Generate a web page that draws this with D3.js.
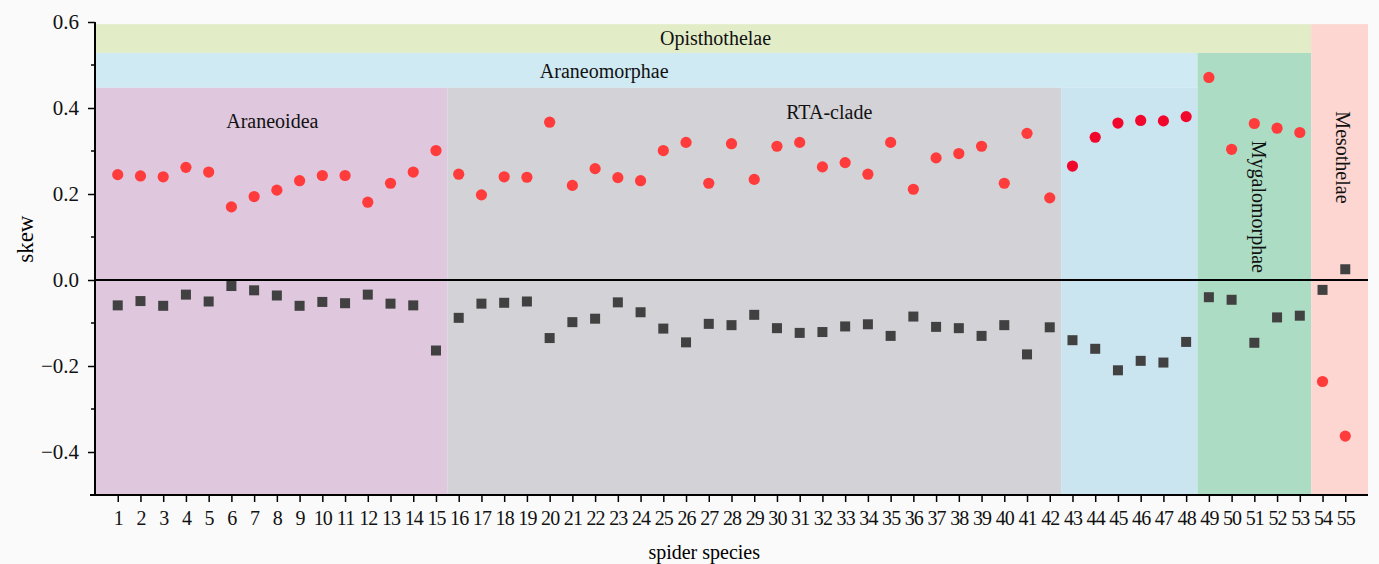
<!DOCTYPE html>
<html>
<head>
<meta charset="utf-8">
<script src="https://cdn.jsdelivr.net/npm/d3@7"></script>
<style>
  body { margin: 0; background: #fafafa; }
  text { font-family: "Liberation Serif", "Times New Roman", serif; }
</style>
</head>
<body>
<div id="chart"></div>
<script>
// species numbers 1..55
const species = d3.range(1, 56);

// skew of the red (circle) series
const skewUpper = [
  0.245, 0.242, 0.240, 0.262, 0.251, 0.170, 0.194, 0.209, 0.231, 0.243,
  0.243, 0.181, 0.225, 0.251, 0.301, 0.246, 0.198, 0.240, 0.239, 0.367,
  0.220, 0.259, 0.238, 0.231, 0.301, 0.320, 0.225, 0.317, 0.234, 0.311,
  0.320, 0.263, 0.273, 0.246, 0.320, 0.211, 0.284, 0.294, 0.311, 0.225,
  0.341, 0.191, 0.265, 0.332, 0.365, 0.371, 0.370, 0.380, 0.471, 0.304,
  0.364, 0.353, 0.343, -0.236, -0.363
];

// skew of the dark (square) series
const skewLower = [
  -0.059, -0.049, -0.060, -0.034, -0.050, -0.014, -0.024, -0.036, -0.060, -0.051,
  -0.054, -0.034, -0.055, -0.059, -0.164, -0.088, -0.055, -0.053, -0.050, -0.135,
  -0.098, -0.090, -0.052, -0.075, -0.113, -0.145, -0.102, -0.105, -0.081, -0.112,
  -0.123, -0.121, -0.108, -0.103, -0.130, -0.085, -0.109, -0.112, -0.130, -0.105,
  -0.173, -0.110, -0.140, -0.160, -0.210, -0.188, -0.192, -0.144, -0.040, -0.046,
  -0.146, -0.087, -0.083, -0.023, 0.025
];

// clade bands: left/right edge on the species axis, top/bottom skew
const cladeNames = ["Opisthothelae", "Araneomorphae", "Araneoidea", "RTA-clade", "", "Mygalomorphae", "Mesothelae"];
const cladeFrom  = [0, 0, 0, 15.5, 42.5, 48.5, 53.5];
const cladeTo    = [53.5, 48.5, 15.5, 42.5, 48.5, 53.5, 56];
const cladeTop   = [0.595, 0.528, 0.447, 0.447, 0.447, 0.528, 0.595];
const cladeBot   = [0.528, 0.447, -0.5, -0.5, -0.5, -0.5, -0.5];

const yTicks = [-0.4, -0.2, 0.0, 0.2, 0.4, 0.6];
const yMinor = [-0.3, -0.1, 0.1, 0.3, 0.5];

const width = 1379, height = 564;
const margin = {left: 95, right: 11, top: 22, bottom: 69};

const bandFill = ["#e2edc8", "#d0eaf4", "#dfc7de", "#d3d2d7", "#cbe5f0", "#acdcc3", "#fdd6d1"];

const svg = d3.select("#chart").append("svg")
    .attr("width", width)
    .attr("height", height);

const x = d3.scaleLinear().domain([0, 56]).range([margin.left, width - margin.right]);
const y = d3.scaleLinear().domain([-0.5, 0.6]).range([height - margin.bottom, margin.top]);

//background bands for the clades
const bands = cladeNames.map((name, i) => ({
    name: name, from: cladeFrom[i], to: cladeTo[i], top: cladeTop[i], bot: cladeBot[i], fill: bandFill[i]
}));

svg.append("g").selectAll("rect")
    .data(bands)
    .join("rect")
    .attr("x", d => x(d.from))
    .attr("width", d => x(d.to) - x(d.from))
    .attr("y", d => y(d.top))
    .attr("height", d => y(d.bot) - y(d.top))
    .attr("fill", d => d.fill);

//clade labels
const lab = svg.append("g").attr("font-size", 20).attr("fill", "#111");
lab.append("text").attr("x", x(27.3)).attr("y", y(0.562) + 7).attr("text-anchor", "middle").text(cladeNames[0]);
lab.append("text").attr("x", x(22.4)).attr("y", y(0.487) + 7).attr("text-anchor", "middle").text(cladeNames[1]);
lab.append("text").attr("x", x(7.8)).attr("y", y(0.37) + 7).attr("text-anchor", "middle").text(cladeNames[2]);
lab.append("text").attr("x", x(32.3)).attr("y", y(0.39) + 7).attr("text-anchor", "middle").text(cladeNames[3]);
lab.append("text")
    .attr("transform", `translate(${x(51.2) - 7},${y(0.17)}) rotate(90)`)
    .attr("text-anchor", "middle").text(cladeNames[5]);
lab.append("text")
    .attr("transform", `translate(${x(54.9) - 7},${y(0.285)}) rotate(90)`)
    .attr("text-anchor", "middle").text(cladeNames[6]);

//zero line
svg.append("line")
    .attr("x1", x(0)).attr("x2", x(56))
    .attr("y1", y(0)).attr("y2", y(0))
    .attr("stroke", "#000").attr("stroke-width", 2);

//square series
const sq = 10;
svg.append("g").selectAll("rect")
    .data(species)
    .join("rect")
    .attr("x", d => x(d) - sq / 2)
    .attr("y", (d, i) => y(skewLower[i]) - sq / 2)
    .attr("width", sq).attr("height", sq)
    .attr("fill", "#414141");

//circle series
svg.append("g").selectAll("circle")
    .data(species)
    .join("circle")
    .attr("cx", d => x(d))
    .attr("cy", (d, i) => y(skewUpper[i]))
    .attr("r", 5.6)
    .attr("fill", d => (d >= 43 && d <= 48) ? "#f2072c" : "#ff3b3b");

//axes
const yAxis = svg.append("g")
    .attr("transform", `translate(${margin.left},0)`)
    .call(d3.axisLeft(y).tickValues(yTicks).tickSize(7).tickPadding(9)
        .tickFormat(d => d3.format(".1f")(d).replace("-", "\u2212")));
yAxis.selectAll("line").attr("stroke-width", 1.5);
yAxis.selectAll("text").attr("font-size", 21).attr("fill", "#111").attr("font-family", "Liberation Serif");
yAxis.select(".domain").attr("d", `M0,${y(0.6)}V${y(-0.5)}`).attr("stroke-width", 2);

svg.append("g").selectAll("line")
    .data(yMinor)
    .join("line")
    .attr("x1", margin.left - 4).attr("x2", margin.left)
    .attr("y1", d => y(d)).attr("y2", d => y(d))
    .attr("stroke", "#000").attr("stroke-width", 1.5);

const xAxis = svg.append("g")
    .attr("transform", `translate(0,${y(-0.5)})`)
    .call(d3.axisBottom(x).tickValues(species).tickSize(7).tickPadding(9).tickFormat(d3.format("d")));
xAxis.selectAll("line").attr("stroke-width", 1.5);
xAxis.selectAll("text").attr("font-size", 20).attr("fill", "#111").attr("font-family", "Liberation Serif")
    .attr("letter-spacing", -0.9);
xAxis.select(".domain").attr("d", `M${margin.left - 5},0H${x(56)}`).attr("stroke-width", 2);

//axis titles
svg.append("text")
    .attr("transform", `translate(33,${y(0.095)}) rotate(-90)`)
    .attr("text-anchor", "middle")
    .attr("font-size", 23)
    .text("skew");

svg.append("text")
    .attr("x", x(26.8)).attr("y", 559)
    .attr("text-anchor", "middle")
    .attr("font-size", 20)
    .text("spider species");
</script>
</body>
</html>
